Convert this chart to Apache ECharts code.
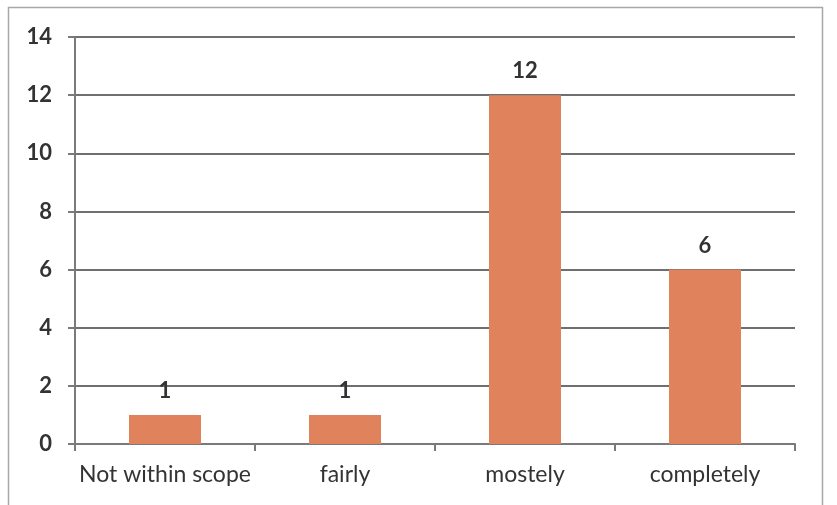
<!DOCTYPE html>
<html>
<head>
<meta charset="utf-8">
<style>
  html, body { margin: 0; padding: 0; background: #fff; }
  #chart { width: 837px; height: 505px; }
</style>
<script src="https://cdn.jsdelivr.net/npm/echarts@6/dist/echarts.min.js"></script>
</head>
<body>
<div id="chart"></div>
<script>
// Survey responses per category
const categories = ['Not within scope', 'fairly', 'mostely', 'completely'];
const counts = [1, 1, 12, 6];
const yTicks = [0, 2, 4, 6, 8, 10, 12, 14];

const chart = echarts.init(document.getElementById('chart'));
chart.setOption({
  backgroundColor: '#fff',
  animation: false,
  graphic: [{
    type: 'rect',
    shape: { x: 8.5, y: 7.5, width: 814, height: 510 },
    style: { fill: 'none', stroke: '#a8a8a8', lineWidth: 1.5 }
  }],
  grid: { left: 75, right: 42, top: 37, bottom: 61 },
  xAxis: {
    type: 'category',
    data: categories,
    axisLine: { lineStyle: { color: '#7a7a7a', width: 2 } },
    axisTick: { show: true, length: 7, lineStyle: { color: '#7a7a7a', width: 2 } },
    axisLabel: { interval: 0, margin: 19, fontFamily: 'Lato', fontSize: 23, color: '#333' }
  },
  yAxis: {
    type: 'value',
    min: yTicks[0],
    max: yTicks[yTicks.length - 1],
    interval: 2,
    axisLine: { show: true, lineStyle: { color: '#7a7a7a', width: 2 } },
    axisTick: { show: true, length: 7, lineStyle: { color: '#7a7a7a', width: 2 } },
    splitLine: { lineStyle: { color: '#6f6f6f', width: 2 } },
    axisLabel: { margin: 23, fontFamily: 'Lato', fontWeight: 'bold', fontSize: 22, color: '#333' }
  },
  series: [{
    type: 'bar',
    data: counts,
    barWidth: '40%',
    itemStyle: { color: '#e0825b' },
    label: {
      show: true,
      position: 'top',
      distance: 13,
      fontFamily: 'Lato',
      fontWeight: 'bold',
      fontSize: 22,
      color: '#333'
    }
  }]
});
</script>
</body>
</html>
